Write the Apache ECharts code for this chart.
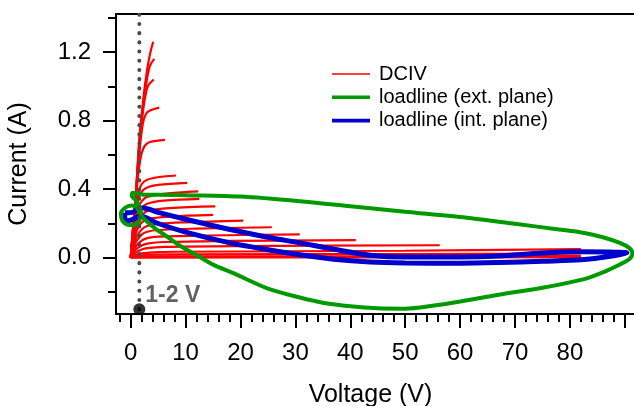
<!DOCTYPE html>
<html>
<head>
<meta charset="utf-8">
<script src="https://cdn.jsdelivr.net/npm/echarts@6/dist/echarts.min.js"></script>
<style>
  html, body { margin: 0; padding: 0; background: #fff; }
  #chart { width: 634px; height: 406px; }
</style>
</head>
<body>
<div id="chart"></div>
<script>
// DC-IV family, [V, I] per curve
const dciv = [
  [[0,0],[0.5,0.2],[1,0.4],[1.6,0.7],[2.3,0.93],[3,1.1],[3.6,1.2],[4.1,1.26]],
  [[0,0],[0.5,0.2],[1,0.4],[1.6,0.69],[2.3,0.9],[3,1.05],[3.5,1.12],[4.3,1.16]],
  [[0,0],[0.5,0.2],[1,0.4],[1.6,0.67],[2.3,0.87],[2.9,0.98],[3.3,1.01],[4.2,1.04]],
  [[0,0],[0.5,0.2],[1,0.39],[1.6,0.62],[2.2,0.78],[2.8,0.84],[3.6,0.86],[5.2,0.876]],
  [[0,0],[0.5,0.19],[1,0.37],[1.5,0.52],[2,0.61],[2.6,0.655],[3.5,0.675],[6.25,0.688]],
  [[0,0],[0.5,0.17],[1,0.3],[1.5,0.39],[2,0.43],[3,0.455],[5,0.47],[8.25,0.48]],
  [[0,0],[0.5,0.16],[1,0.28],[1.5,0.35],[2,0.385],[3,0.41],[5,0.425],[10.3,0.437]],
  [[0,0],[0.5,0.15],[1,0.25],[1.5,0.3],[2,0.33],[3,0.355],[6,0.373],[12.3,0.387]],
  [[0,0],[0.5,0.13],[1,0.21],[1.5,0.26],[2,0.29],[3,0.315],[6,0.333],[12.5,0.344]],
  [[0,0],[0.5,0.11],[1,0.18],[1.5,0.22],[2,0.247],[3,0.272],[7,0.29],[15.4,0.3]],
  [[0,0],[0.5,0.09],[1,0.15],[1.5,0.185],[2,0.205],[3,0.225],[7,0.24],[15,0.25]],
  [[0,0],[0.5,0.07],[1,0.12],[2,0.165],[3,0.185],[5,0.198],[10,0.207],[20.5,0.217]],
  [[0,0],[0.5,0.055],[1,0.095],[2,0.135],[3,0.152],[5,0.162],[12,0.17],[25.7,0.178]],
  [[0,0],[0.5,0.04],[1,0.07],[2,0.1],[3,0.115],[5,0.123],[14,0.13],[30.8,0.136]],
  [[0,0],[0.5,0.03],[1,0.05],[2,0.072],[3,0.083],[6,0.092],[18,0.098],[41,0.103]],
  [[0,0],[1,0.033],[2,0.048],[3,0.056],[6,0.063],[20,0.068],[56.3,0.073]],
  [[0,0],[1,0.018],[2,0.026],[4,0.032],[8,0.035],[50,0.041],[82,0.05]],
  [[0,0],[1,0.009],[2,0.014],[4,0.018],[8,0.02],[50,0.022],[82,0.025]],
  [[0,0],[1,0.005],[2,0.007],[5,0.009],[50,0.009],[82,0.01]],
  [[0,0],[2,0.001],[40,0.002],[82,0.003]]
];

// loadline, external reference plane (one RF cycle)
const loadlineExt = [
  [1.0,0.378],[2.5,0.368],[5,0.368],[10,0.365],[20,0.357],[30.8,0.33],[40,0.3],
  [50,0.268],[61.2,0.233],[70,0.198],[78,0.165],[82.4,0.146],[86,0.12],[89.1,0.087],
  [90.8,0.058],[91.4,0.027],[90.9,-0.006],[89.1,-0.039],[86,-0.085],[82.4,-0.126],
  [75,-0.175],[67.3,-0.214],[60,-0.255],[55,-0.28],[50,-0.297],[45,-0.295],[40,-0.283],
  [35,-0.262],[30.8,-0.232],[25,-0.18],[18.7,-0.09],[15,-0.04],[12.6,0.004],[9,0.07],
  [6.6,0.124],[4.5,0.17],[2.3,0.231],[1.6,0.268],[1.0,0.298],[0.1,0.305],[-1.0,0.292],
  [-1.8,0.258],[-1.5,0.214],[-0.6,0.193],[0.5,0.19],[1.4,0.21],[1.9,0.25],[1.6,0.3],
  [0.8,0.34],[0.2,0.36],[0.3,0.378],[1.0,0.378]
];

// loadline, intrinsic plane
const loadlineInt = [
  [-1.04,0.262],[0.5,0.266],[1.5,0.29],[2.3,0.29],[5,0.265],[10,0.225],[18.1,0.165],
  [25,0.12],[30.8,0.087],[37,0.05],[43.6,0.015],[50,0.004],[60,0.004],[67,0.01],
  [75,0.028],[82,0.035],[87,0.034],[90.4,0.028],[88,0.012],[82,-0.012],[75,-0.02],
  [67,-0.028],[60,-0.032],[50,-0.03],[43.6,-0.024],[37,-0.008],[30.8,0.018],[25,0.047],
  [18.1,0.087],[10,0.15],[5,0.2],[1.7,0.243],[0.4,0.224],[-0.7,0.215],[-1.1,0.238],
  [-1.04,0.262]
];

const markerV = 1.57;
const markerDotI = -0.3;

const xMajorTicks = [0, 10, 20, 30, 40, 50, 60, 70, 80, 90];
const xLabels = [0, 10, 20, 30, 40, 50, 60, 70, 80];
const xMinorTicks = [-2, 2, 4, 6, 8, 12, 14, 16, 18, 22, 24, 26, 28, 32, 34, 36, 38,
  42, 44, 46, 48, 52, 54, 56, 58, 62, 64, 66, 68, 72, 74, 76, 78, 82, 84, 86, 88];
const yMajorTicks = [0, 0.4, 0.8, 1.2];
const yMinorTicks = [-0.2, 0.2, 0.6, 1.0, 1.4];

const X_MIN = -2.68, X_MAX = 91.68;
const Y_MIN = -0.328, Y_MAX = 1.422;

const FONT = "'Liberation Sans', Arial, sans-serif";

const chart = echarts.init(document.getElementById('chart'), null, { renderer: 'canvas' });

const baseX = { type: 'value', min: X_MIN, max: X_MAX, splitLine: { show: false } };
const baseY = { type: 'value', min: Y_MIN, max: Y_MAX, splitLine: { show: false } };

const redSeries = dciv.map(curve => ({
  name: 'DCIV',
  type: 'line',
  data: curve,
  smooth: 0.35,
  symbol: 'none',
  color: '#ff0000',
  lineStyle: { width: 2.2, color: '#ff0000' },
  z: 2
}));

const option = {
  animation: false,
  backgroundColor: '#fff',
  textStyle: { fontFamily: FONT },
  // keep the plot box fixed, v6 would otherwise shrink it to fit the labels
  grid: { left: 116, right: 0, top: 14, bottom: 92, outerBoundsMode: 'none', containLabel: false },
  legend: {
    orient: 'vertical',
    left: 327,
    top: 59,
    itemWidth: 38,
    itemHeight: 14,
    itemGap: 3.3,
    textStyle: { fontSize: 20, lineHeight: 20, color: '#000', fontFamily: FONT, padding: [0, 0, 0, 4] },
    itemStyle: { borderWidth: 0 },
    data: [
      { name: 'DCIV', icon: 'path://M0,0h38v1.4h-38z' },
      { name: 'loadline (ext. plane)', icon: 'path://M0,0h38v3.6h-38z' },
      { name: 'loadline (int. plane)', icon: 'path://M0,0h38v3.6h-38z' }
    ]
  },
  xAxis: [
    Object.assign({}, baseX, {
      position: 'bottom',
      name: 'Voltage (V)',
      nameLocation: 'middle',
      nameGap: 69,
      nameTextStyle: { fontSize: 25, color: '#000', fontFamily: FONT, padding: [0, 9, 0, 0] },
      axisLine: { onZero: false, lineStyle: { color: '#000', width: 2 } },
      axisTick: { customValues: xMajorTicks, length: 14, lineStyle: { color: '#000', width: 2 } },
      axisLabel: { customValues: xLabels, margin: 27, fontSize: 24, color: '#000', fontFamily: FONT }
    }),
    Object.assign({}, baseX, {
      position: 'bottom',
      axisLine: { show: false, onZero: false },
      axisTick: { customValues: xMinorTicks, length: 8, lineStyle: { color: '#000', width: 2 } },
      axisLabel: { show: false }
    }),
    Object.assign({}, baseX, {
      position: 'top',
      axisLine: { onZero: false, lineStyle: { color: '#000', width: 2 } },
      axisTick: { show: false },
      axisLabel: { show: false }
    })
  ],
  yAxis: [
    Object.assign({}, baseY, {
      position: 'left',
      name: 'Current (A)',
      nameLocation: 'middle',
      nameGap: 84,
      nameTextStyle: { fontSize: 25, color: '#000', fontFamily: FONT },
      axisLine: { onZero: false, lineStyle: { color: '#000', width: 2 } },
      axisTick: { customValues: yMajorTicks, length: 13, lineStyle: { color: '#000', width: 2 } },
      axisLabel: {
        customValues: yMajorTicks, margin: 25, fontSize: 24, color: '#000', fontFamily: FONT,
        formatter: v => v.toFixed(1)
      }
    }),
    Object.assign({}, baseY, {
      position: 'left',
      axisLine: { show: false, onZero: false },
      axisTick: { customValues: yMinorTicks, length: 8, lineStyle: { color: '#000', width: 2 } },
      axisLabel: { show: false }
    })
  ],
  series: [
    ...redSeries,
    {
      name: 'loadline (int. plane)',
      type: 'line',
      data: loadlineInt,
      smooth: 0.3,
      symbol: 'none',
      color: '#0000cc',
      lineStyle: { width: 5, color: '#0000cc' },
      z: 3
    },
    {
      name: 'loadline (ext. plane)',
      type: 'line',
      data: loadlineExt,
      smooth: 0.3,
      symbol: 'none',
      color: '#009900',
      lineStyle: { width: 4, color: '#009900' },
      z: 4
    },
    {
      // 1-2 V marker line
      type: 'line',
      data: [[markerV, markerDotI], [markerV, Y_MAX]],
      symbol: 'none',
      lineStyle: { width: 4, color: '#4a4a4a', type: [0.1, 9.1], cap: 'round' },
      z: 5,
      silent: true
    },
    {
      type: 'scatter',
      data: [[markerV, markerDotI]],
      symbolSize: 12,
      itemStyle: { color: '#000' },
      label: {
        show: true,
        formatter: '1-2 V',
        position: 'right',
        distance: 0,
        offset: [0, -14],
        fontSize: 23,
        fontWeight: 'bold',
        color: '#3a3a3a',
        fontFamily: FONT
      },
      z: 6,
      silent: true
    }
  ]
};

chart.setOption(option);
</script>
</body>
</html>
